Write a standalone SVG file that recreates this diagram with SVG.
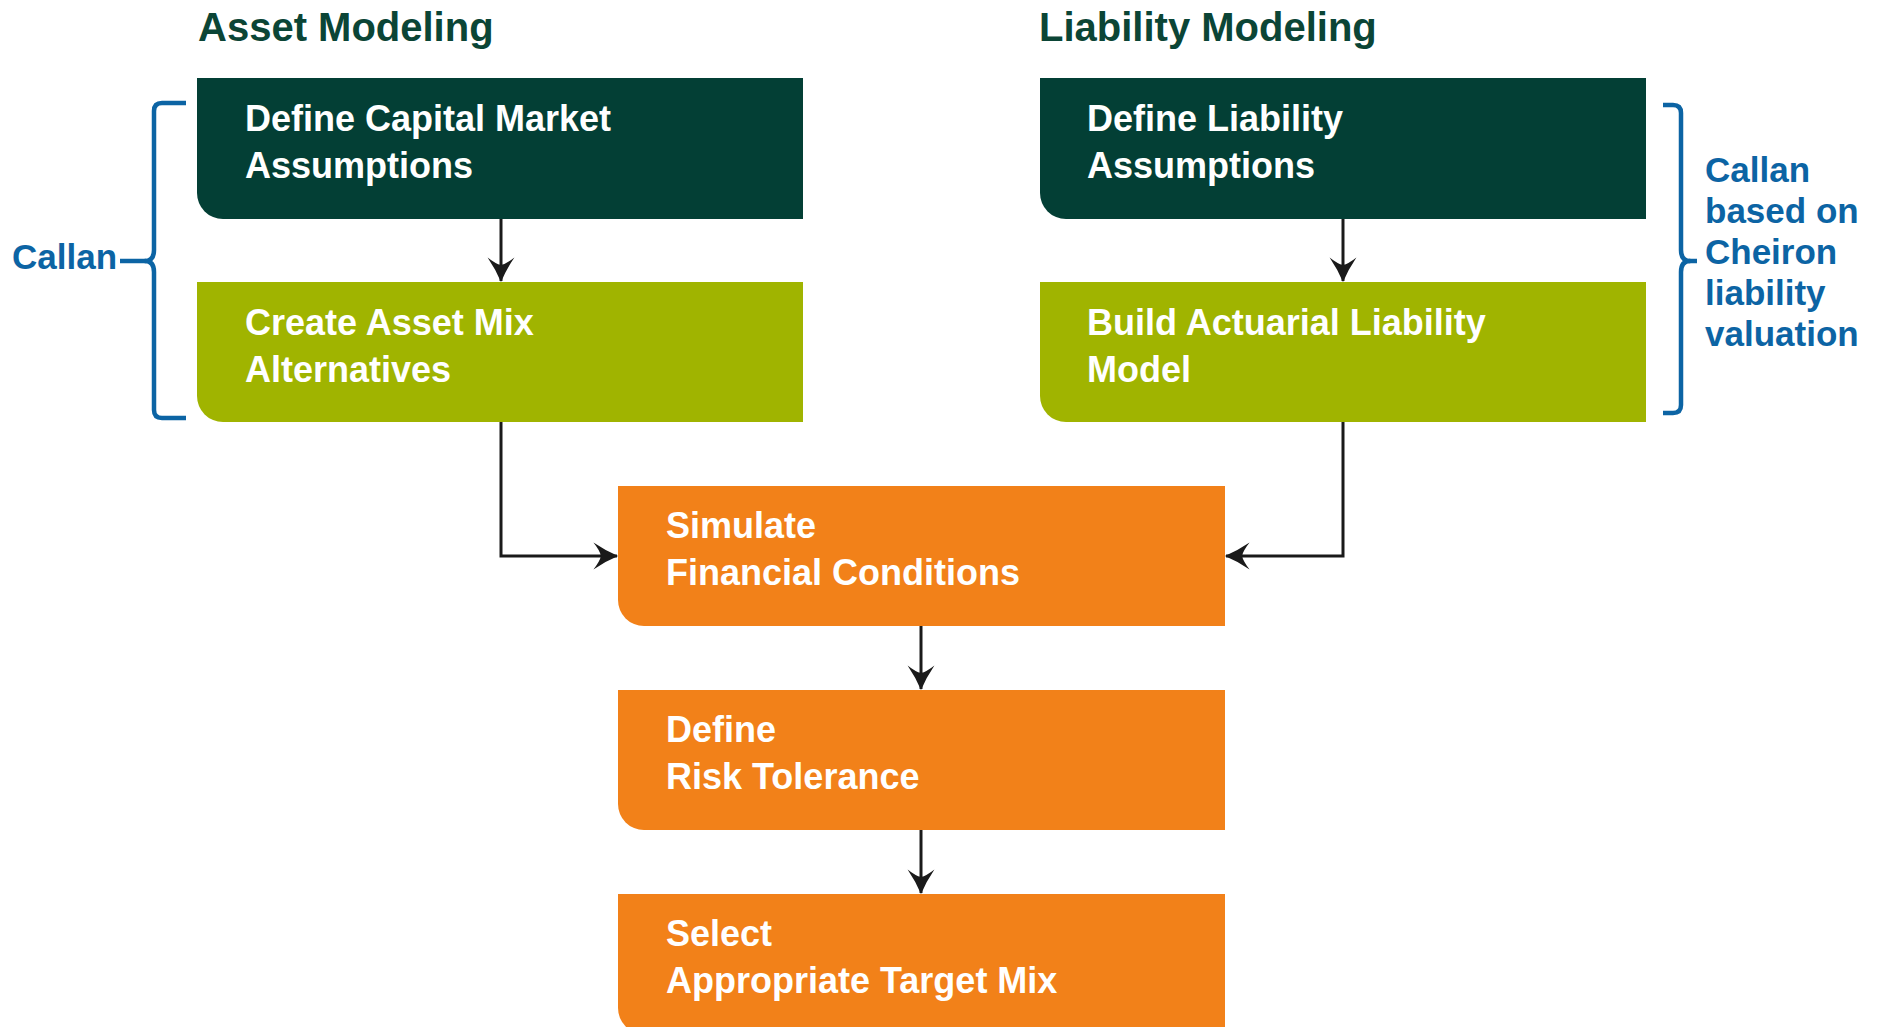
<svg xmlns="http://www.w3.org/2000/svg" width="1883" height="1027" viewBox="0 0 1883 1027">
  <defs>
    <style>
      .title { font-family: "Liberation Sans", Arial, sans-serif; font-weight: bold; font-size: 40px; fill: #0B4536; }
      .lbl { font-family: "Liberation Sans", Arial, sans-serif; font-weight: bold; font-size: 36px; fill: #FFFFFF; }
      .note { font-family: "Liberation Sans", Arial, sans-serif; font-weight: bold; font-size: 35px; fill: #0C64A4; }
      .dark { fill: #033F35; }
      .olive { fill: #A0B400; }
      .orange { fill: #F28119; }
      .conn { fill: none; stroke: #1A1A1A; stroke-width: 3; }
      .brace { fill: none; stroke: #0C64A4; stroke-width: 4.5; stroke-linejoin: round; }
    </style>
    <marker id="arr" markerUnits="userSpaceOnUse" markerWidth="28" markerHeight="30" viewBox="-24 -14 26 28" refX="0" refY="0" orient="auto">
      <path d="M1,0 Q-11,-5 -22,-12.5 Q-16,-5 -15,0 Q-16,5 -22,12.5 Q-11,5 1,0 Z" fill="#1A1A1A"/>
    </marker>
  </defs>

  <text class="title" x="198" y="41">Asset Modeling</text>
  <text class="title" x="1039" y="41">Liability Modeling</text>

  <g id="connectors">
    <path class="conn" d="M501,219 V281" marker-end="url(#arr)"/>
    <path class="conn" d="M1343,219 V281" marker-end="url(#arr)"/>
    <path class="conn" d="M501,422 V556 H617" marker-end="url(#arr)"/>
    <path class="conn" d="M1343,422 V556 H1226" marker-end="url(#arr)"/>
    <path class="conn" d="M921,626 V689" marker-end="url(#arr)"/>
    <path class="conn" d="M921,830 V893" marker-end="url(#arr)"/>
  </g>

  <g id="node-capital-market">
    <path class="dark" d="M197,78 H803 V219 H223 A26,26 0 0 1 197,193 Z"/>
    <text class="lbl" x="245" y="131">Define Capital Market</text>
    <text class="lbl" x="245" y="178">Assumptions</text>
  </g>
  <g id="node-asset-mix">
    <path class="olive" d="M197,282 H803 V422 H223 A26,26 0 0 1 197,396 Z"/>
    <text class="lbl" x="245" y="335">Create Asset Mix</text>
    <text class="lbl" x="245" y="382">Alternatives</text>
  </g>
  <g id="node-liability-assumptions">
    <path class="dark" d="M1040,78 H1646 V219 H1066 A26,26 0 0 1 1040,193 Z"/>
    <text class="lbl" x="1087" y="131">Define Liability</text>
    <text class="lbl" x="1087" y="178">Assumptions</text>
  </g>
  <g id="node-liability-model">
    <path class="olive" d="M1040,282 H1646 V422 H1066 A26,26 0 0 1 1040,396 Z"/>
    <text class="lbl" x="1087" y="335">Build Actuarial Liability</text>
    <text class="lbl" x="1087" y="382">Model</text>
  </g>
  <g id="node-simulate">
    <path class="orange" d="M618,486 H1225 V626 H644 A26,26 0 0 1 618,600 Z"/>
    <text class="lbl" x="666" y="538">Simulate</text>
    <text class="lbl" x="666" y="585">Financial Conditions</text>
  </g>
  <g id="node-risk">
    <path class="orange" d="M618,690 H1225 V830 H644 A26,26 0 0 1 618,804 Z"/>
    <text class="lbl" x="666" y="742">Define</text>
    <text class="lbl" x="666" y="789">Risk Tolerance</text>
  </g>
  <g id="node-select">
    <path class="orange" d="M618,894 H1225 V1034 H644 A26,26 0 0 1 618,1008 Z"/>
    <text class="lbl" x="666" y="946">Select</text>
    <text class="lbl" x="666" y="993">Appropriate Target Mix</text>
  </g>

  <g id="brace-left">
    <path class="brace" d="M186,103 H162 Q154,103 154,111 V250 Q154,261 145,261 Q154,261 154,272 V410 Q154,418 162,418 H186"/>
    <path class="brace" d="M120,261 H146"/>
    <text class="note" x="12" y="269">Callan</text>
  </g>
  <g id="brace-right">
    <path class="brace" d="M1663,105 H1673 Q1681,105 1681,113 V250 Q1681,261 1690,261 Q1681,261 1681,272 V405 Q1681,413 1673,413 H1663"/>
    <path class="brace" d="M1689,261 H1697"/>
    <text class="note" x="1705" y="182">Callan</text>
    <text class="note" x="1705" y="223">based on</text>
    <text class="note" x="1705" y="264">Cheiron</text>
    <text class="note" x="1705" y="305">liability</text>
    <text class="note" x="1705" y="346">valuation</text>
  </g>
</svg>
